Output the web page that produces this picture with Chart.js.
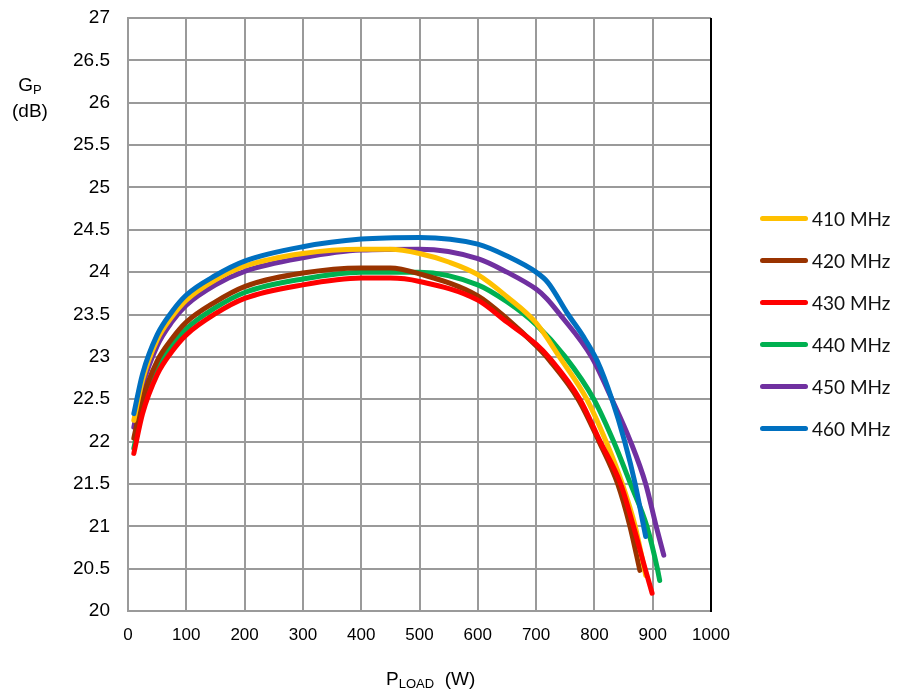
<!DOCTYPE html>
<html>
<head>
<meta charset="utf-8">
<script src="https://cdn.jsdelivr.net/npm/chart.js@4"></script>
<style>
  body { margin: 0; background: #fff; }
  #wrap { position: relative; width: 899px; height: 695px; }
  #grafico { position: absolute; left: 0; top: 0; }
  .titulo { position: absolute; font-family: "Liberation Sans", Arial, sans-serif; font-size: 19px; color: #000; }
  .titulo sub { font-size: 13px; vertical-align: -3px; }
  #legenda { position: absolute; left: 760px; top: 197px; font-family: Lato, "Open Sans", sans-serif; font-size: 19px; color: #111; }
  .item { display: flex; align-items: center; height: 42px; }
  .amostra { width: 48px; height: 5px; border-radius: 3px; margin-right: 4px; }
</style>
</head>
<body>
<div id="wrap">
  <canvas id="grafico" width="899" height="695"></canvas>
  <div class="titulo" style="left:12px; top:74px; text-align:center; line-height:21px;">G<sub>P</sub><br>(dB)</div>
  <div class="titulo" style="left:386px; top:668px;">P<sub>LOAD</sub>&nbsp; (W)</div>
  <div id="legenda"></div>
</div>
<script>
// ===== DADOS =====
const series = ['410 MHz', '420 MHz', '430 MHz', '440 MHz', '450 MHz', '460 MHz'];
const cores = ['#ffc000', '#993300', '#ff0000', '#00b050', '#7030a0', '#0070c0'];

const p410 = [10, 25, 50, 75, 100, 150, 200, 300, 400, 450, 500, 550, 600, 650, 700, 740, 787, 820, 848, 870, 888];
const g410 = [22.25, 22.73, 23.2, 23.47, 23.67, 23.91, 24.07, 24.22, 24.27, 24.27, 24.22, 24.12, 23.97, 23.71, 23.4, 23.0, 22.5, 22.0, 21.5, 21.0, 20.42];

const p420 = [10, 25, 50, 75, 100, 150, 200, 300, 400, 450, 500, 600, 650, 700, 724, 772, 808, 840, 861, 878];
const g420 = [22.04, 22.5, 22.95, 23.21, 23.41, 23.65, 23.83, 23.99, 24.05, 24.05, 23.98, 23.72, 23.45, 23.13, 22.95, 22.5, 22.0, 21.5, 21.0, 20.48];

const p430 = [10, 25, 50, 75, 100, 150, 200, 300, 400, 450, 500, 600, 650, 700, 724, 775, 810, 845, 867, 887, 899];
const g430 = [21.86, 22.33, 22.79, 23.06, 23.26, 23.51, 23.69, 23.85, 23.93, 23.93, 23.89, 23.67, 23.41, 23.15, 22.98, 22.5, 22.0, 21.5, 21.0, 20.5, 20.21];

const p440 = [10, 25, 50, 75, 100, 150, 200, 300, 400, 500, 600, 650, 700, 750, 799, 833, 862, 890, 908, 912];
const g440 = [21.92, 22.4, 22.86, 23.13, 23.33, 23.58, 23.76, 23.92, 24.0, 24.0, 23.85, 23.65, 23.38, 23.0, 22.5, 22.0, 21.5, 21.0, 20.5, 20.36];

const p450 = [10, 25, 50, 75, 100, 150, 200, 300, 400, 500, 600, 650, 700, 718, 741, 795, 830, 862, 888, 906, 919];
const g450 = [22.17, 22.66, 23.13, 23.41, 23.61, 23.85, 24.01, 24.17, 24.26, 24.27, 24.16, 24.0, 23.8, 23.69, 23.5, 23.0, 22.5, 22.0, 21.5, 21.0, 20.66];

const p460 = [10, 25, 50, 75, 100, 150, 200, 300, 400, 500, 600, 650, 700, 720, 755, 780, 805, 830, 852, 870, 883, 888];
const g460 = [22.33, 22.8, 23.26, 23.53, 23.73, 23.96, 24.13, 24.3, 24.39, 24.41, 24.33, 24.19, 24.0, 23.88, 23.5, 23.25, 22.95, 22.5, 22.0, 21.5, 21.05, 20.88];

const ticksX = [0, 100, 200, 300, 400, 500, 600, 700, 800, 900, 1000];
const ticksY = [20, 20.5, 21, 21.5, 22, 22.5, 23, 23.5, 24, 24.5, 25, 25.5, 26, 26.5, 27];

const potencias = [p410, p420, p430, p440, p450, p460];
const ganhos = [g410, g420, g430, g440, g450, g460];

// ===== MONTAGEM =====
const datasets = series.map((nome, i) => ({
    label: nome,
    data: potencias[i].map((p, k) => ({ x: p, y: ganhos[i][k] })),
    borderColor: cores[i],
    backgroundColor: cores[i],
    borderWidth: 5,
    pointRadius: 0,
    cubicInterpolationMode: 'monotone',
    borderCapStyle: 'round',
    fill: false
}));

// ordem de desenho (menor fica por cima)
const ordem = [2, 3, 0, 4, 5, 1];
datasets.forEach((d, i) => { d.order = ordem[i]; });

const fonteX = { family: '"Liberation Sans", Arial, sans-serif', size: 17 };
const fonteY = { family: '"Liberation Sans", Arial, sans-serif', size: 19 };

const bordaDireita = {
    id: 'bordaDireita',
    afterDraw(chart) {
        const a = chart.chartArea;
        const ctx = chart.ctx;
        ctx.save();
        ctx.strokeStyle = '#000';
        ctx.lineWidth = 2;
        ctx.beginPath();
        ctx.moveTo(a.right, a.top);
        ctx.lineTo(a.right, a.bottom + 1);
        ctx.stroke();
        ctx.restore();
    }
};

new Chart(document.getElementById('grafico').getContext('2d'), {
    type: 'line',
    data: { datasets: datasets },
    options: {
        responsive: false,
        animation: false,
        layout: { padding: { top: 18, right: 188, left: 0, bottom: 0 } },
        plugins: { legend: { display: false }, tooltip: { enabled: false } },
        scales: {
            x: {
                type: 'linear', min: ticksX[0], max: ticksX[ticksX.length - 1],
                afterBuildTicks(s) { s.ticks = ticksX.map(v => ({ value: v })); },
                ticks: { color: '#000', font: fonteX, padding: 14, maxRotation: 0, callback: v => String(v) },
                grid: { color: '#9a9a9a', lineWidth: 2, drawTicks: false },
                border: { color: '#9a9a9a', width: 2 },
                afterFit(s) { s.height = 84; }
            },
            y: {
                min: ticksY[0], max: ticksY[ticksY.length - 1],
                afterBuildTicks(s) { s.ticks = ticksY.map(v => ({ value: v })); },
                ticks: { color: '#000', font: fonteY, padding: 18, callback: v => String(v) },
                grid: { color: '#9a9a9a', lineWidth: 2, drawTicks: false },
                border: { color: '#9a9a9a', width: 2 },
                afterFit(s) { s.width = 128; s.paddingTop = 0; s.paddingBottom = 0; }
            }
        }
    },
    plugins: [bordaDireita]
});

// ===== LEGENDA =====
const legenda = document.getElementById('legenda');
series.forEach((nome, i) => {
    const item = document.createElement('div');
    item.className = 'item';
    item.innerHTML = '<span class="amostra" style="background:' + cores[i] + '"></span><span>' + nome + '</span>';
    legenda.appendChild(item);
});
</script>
</body>
</html>
